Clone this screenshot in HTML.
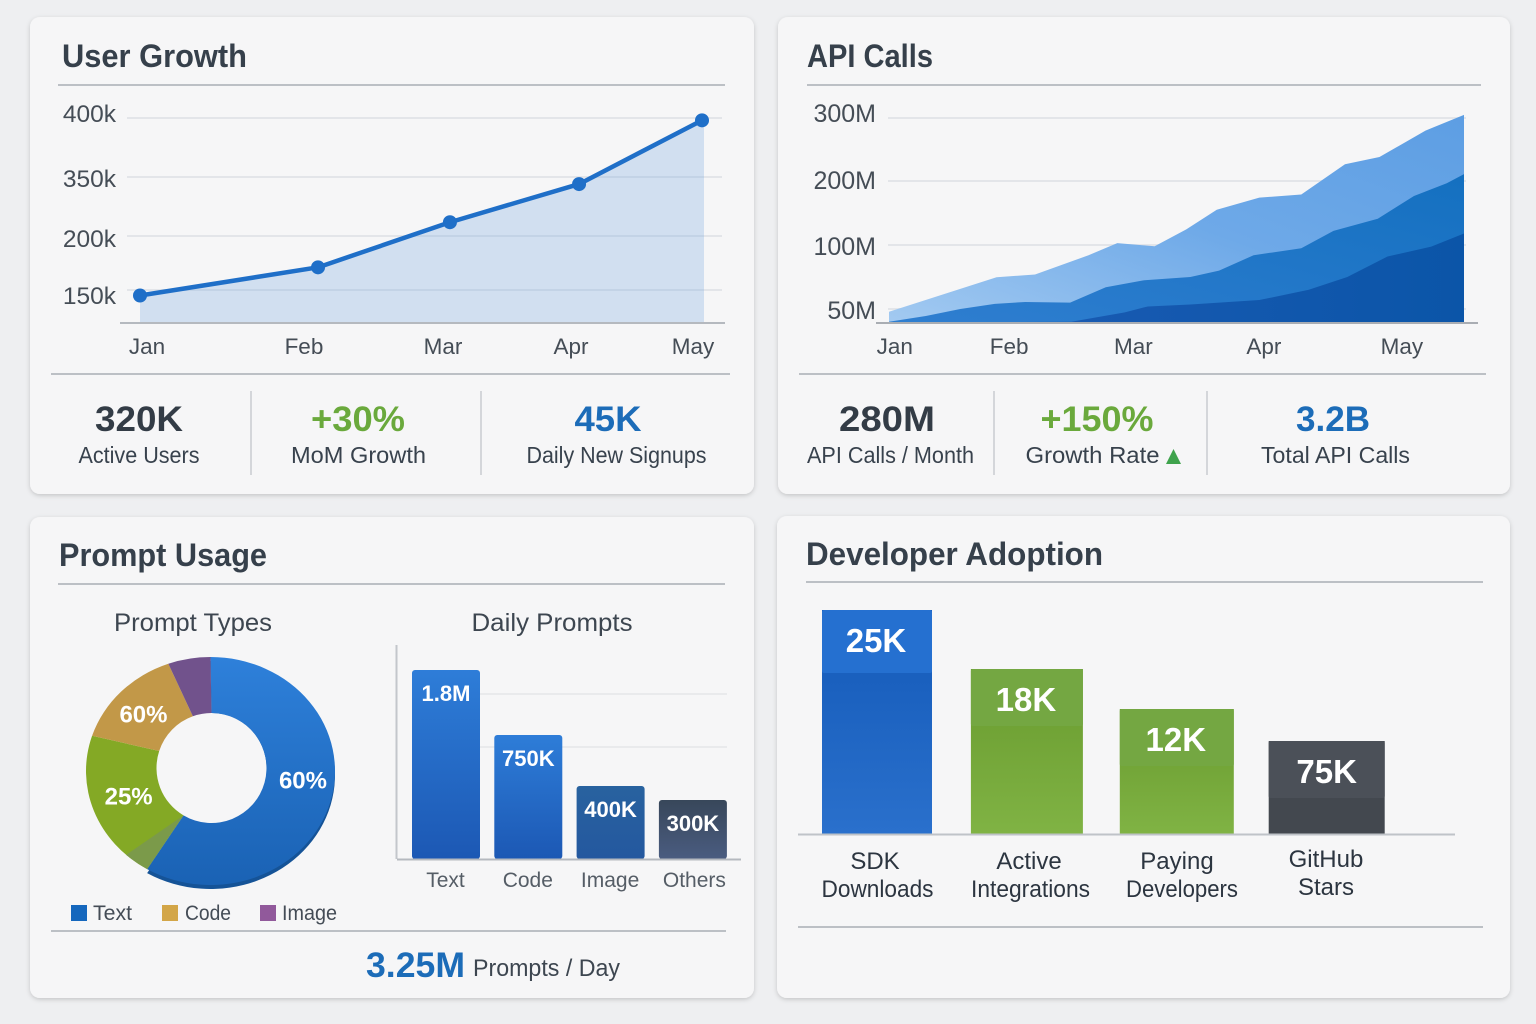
<!DOCTYPE html>
<html lang="en">
<head>
<meta charset="utf-8">
<title>Product Metrics Dashboard</title>
<style>
html,body{margin:0;padding:0;background:#eeeff1;width:1536px;height:1024px;overflow:hidden}
svg{display:block}
text{font-family:"Liberation Sans",sans-serif}
.title{font-size:32px;font-weight:700;fill:#36404b}
.kpi{font-size:35px;font-weight:700;text-anchor:middle}
.kpi-label{font-size:23px;fill:#38424d;text-anchor:middle}
.tick{font-size:24.5px;fill:#454d56}
.xtick{font-size:22.5px;fill:#454d56}
.sub{font-size:25px;fill:#3d4650;text-anchor:middle}
.legend{font-size:21px;fill:#444c56}
.dev{font-size:24px;fill:#2c3540;text-anchor:middle}
.divider{stroke:#bcc0c5;stroke-width:2}
.sep{stroke:#d4d6da;stroke-width:2}
</style>
</head>
<body>
<svg id="dash" xmlns="http://www.w3.org/2000/svg" width="1536" height="1024" viewBox="0 0 1536 1024">
<defs>
<filter id="cardShadow" x="-5%" y="-5%" width="110%" height="110%"><feDropShadow dx="0" dy="1.5" stdDeviation="2.5" flood-color="#000" flood-opacity="0.18"/></filter>
<linearGradient id="apiTop" x1="0" y1="1" x2="1" y2="0"><stop offset="0" stop-color="#a3caf1"/><stop offset="0.5" stop-color="#6ea9e8"/><stop offset="1" stop-color="#5d9ee3"/></linearGradient>
<linearGradient id="apiMid" x1="0" y1="1" x2="1" y2="0"><stop offset="0" stop-color="#2f7ed0"/><stop offset="1" stop-color="#1470c0"/></linearGradient>
<linearGradient id="apiLow" x1="0" y1="0" x2="1" y2="0"><stop offset="0" stop-color="#1e5cb6"/><stop offset="1" stop-color="#0b55a8"/></linearGradient>
<linearGradient id="barBlue" x1="0" y1="0" x2="0" y2="1"><stop offset="0" stop-color="#2e7dd8"/><stop offset="1" stop-color="#1c58b4"/></linearGradient>
<linearGradient id="barNavy" x1="0" y1="0" x2="0" y2="1"><stop offset="0" stop-color="#28629f"/><stop offset="1" stop-color="#24589f"/></linearGradient>
<linearGradient id="barSlate" x1="0" y1="0" x2="0" y2="1"><stop offset="0" stop-color="#38475a"/><stop offset="1" stop-color="#4a5c80"/></linearGradient>
<linearGradient id="devBlue" x1="0" y1="0" x2="0" y2="1"><stop offset="0" stop-color="#1359b8"/><stop offset="1" stop-color="#2a70cc"/></linearGradient>
<linearGradient id="devGreen" x1="0" y1="0" x2="0" y2="1"><stop offset="0" stop-color="#689a2e"/><stop offset="1" stop-color="#80b344"/></linearGradient>
<linearGradient id="donutBlue" x1="0" y1="0" x2="0" y2="1"><stop offset="0" stop-color="#2e80da"/><stop offset="1" stop-color="#1a62b4"/></linearGradient>
</defs>

<g>
<rect x="30" y="17" width="724" height="477" rx="10" fill="#f6f6f7" filter="url(#cardShadow)"/>
<text class="title" x="62" y="67" textLength="185">User Growth</text>
<line class="divider" x1="58" y1="85" x2="725" y2="85"/>
<g id="userChart"></g>
<line class="divider" x1="51" y1="374" x2="730" y2="374"/>
<line class="sep" x1="251" y1="391" x2="251" y2="475"/>
<line class="sep" x1="481" y1="391" x2="481" y2="475"/>
<text class="kpi" x="139" y="431" fill="#333c46" textLength="88">320K</text>
<text class="kpi-label" x="139" y="463" textLength="121">Active Users</text>
<text class="kpi" x="358" y="431" fill="#6aa93c" textLength="94">+30%</text>
<text class="kpi-label" x="358.5" y="463" textLength="135">MoM Growth</text>
<text class="kpi" x="608" y="431" fill="#1c6cb8" textLength="67">45K</text>
<text class="kpi-label" x="616.5" y="463" textLength="180">Daily New Signups</text>
</g>

<g>
<rect x="778" y="17" width="732" height="477" rx="10" fill="#f6f6f7" filter="url(#cardShadow)"/>
<text class="title" x="807" y="67" textLength="126">API Calls</text>
<line class="divider" x1="807" y1="85" x2="1481" y2="85"/>
<g id="apiChart"></g>
<line class="divider" x1="799" y1="374" x2="1486" y2="374"/>
<line class="sep" x1="994" y1="391" x2="994" y2="475"/>
<line class="sep" x1="1207" y1="391" x2="1207" y2="475"/>
<text class="kpi" x="887" y="431" fill="#333c46" textLength="96">280M</text>
<text class="kpi-label" x="890.5" y="463" textLength="167">API Calls / Month</text>
<text class="kpi" x="1097" y="431" fill="#6aa93c" textLength="113">+150%</text>
<text class="kpi-label" x="1092.5" y="463" textLength="134">Growth Rate</text>
<polygon points="1166,464 1181,464 1173.5,449" fill="#3fa34d"/>
<text class="kpi" x="1333" y="431" fill="#1c6cb8" textLength="74">3.2B</text>
<text class="kpi-label" x="1335.5" y="463" textLength="149">Total API Calls</text>
</g>

<g>
<rect x="30" y="517" width="724" height="481" rx="10" fill="#f6f6f7" filter="url(#cardShadow)"/>
<text class="title" x="59" y="566" textLength="208">Prompt Usage</text>
<line class="divider" x1="58" y1="584" x2="725" y2="584"/>
<text class="sub" x="193" y="631" textLength="158">Prompt Types</text>
<text class="sub" x="552" y="631" textLength="161">Daily Prompts</text>
<g id="donutChart"></g>
<g>
<rect x="71" y="905" width="16" height="16" fill="#1567bd"/>
<text class="legend" x="93" y="920" textLength="39">Text</text>
<rect x="162" y="905" width="16" height="16" fill="#d3a648"/>
<text class="legend" x="185" y="920" textLength="46">Code</text>
<rect x="260" y="905" width="16" height="16" fill="#91599b"/>
<text class="legend" x="282" y="920" textLength="55">Image</text>
</g>
<g id="promptBars"></g>
<line class="divider" x1="51" y1="931" x2="726" y2="931"/>
<text x="366" y="977" font-size="35" font-weight="700" fill="#1c6cb8" textLength="99">3.25M</text>
<text x="473" y="976" font-size="24" fill="#3d4650" textLength="147">Prompts / Day</text>
</g>

<g>
<rect x="777" y="516" width="733" height="482" rx="10" fill="#f6f6f7" filter="url(#cardShadow)"/>
<text class="title" x="806" y="565" textLength="297">Developer Adoption</text>
<line class="divider" x1="806" y1="582" x2="1483" y2="582"/>
<g id="devBars"></g>
<text class="dev" x="875" y="869">SDK</text>
<text class="dev" x="877.5" y="897" textLength="112">Downloads</text>
<text class="dev" x="1029" y="869">Active</text>
<text class="dev" x="1030.5" y="897" textLength="119">Integrations</text>
<text class="dev" x="1177" y="869">Paying</text>
<text class="dev" x="1182" y="897" textLength="112">Developers</text>
<text class="dev" x="1326" y="867">GitHub</text>
<text class="dev" x="1326" y="895">Stars</text>
<line class="divider" x1="798" y1="927" x2="1483" y2="927"/>
</g>
</svg>

<script>
// ---- User Growth data ----
const userMonths = ['Jan', 'Feb', 'Mar', 'Apr', 'May'];
const userMonthTime = [0, 1.267, 2.206, 3.125, 4];
const userValues = [145, 171, 235, 332, 398];
const userTickValues = [400, 350, 200, 150];
const userTickLabels = ['400k', '350k', '200k', '150k'];
const userMonthLabelTime = [0.05, 1.167, 2.157, 3.068, 3.936];

// ---- API Calls data (cumulative stack, millions) ----
const apiMonths = ['Jan', 'Feb', 'Mar', 'Apr', 'May'];
const apiMonthLabelTime = [1, 20.9, 42.5, 65.2, 89.2];
const apiTickValues = [300, 200, 100, 50];
const apiTickLabels = ['300M', '200M', '100M', '50M'];
const apiTopTime = [0, 18.7, 25.4, 34.7, 39.7, 46.2, 51.7, 57, 64.4, 71.7, 79.3, 85.3, 93.3, 100];
const apiTopValues = [40, 74.8, 77, 92, 103, 99, 124.5, 155, 174, 179, 226.5, 238, 280, 305];
const apiMidTime = [0, 6.4, 12.4, 18.4, 23.7, 31.5, 37.7, 44.4, 52.4, 57.4, 63.4, 71.7, 77.3, 85, 91.3, 97, 100];
const apiMidValues = [4.6, 25, 50, 54, 55.5, 55, 67, 72.5, 75, 80, 92, 97.5, 122, 141, 176.5, 196.5, 211];
const apiLowTime = [0, 31.7, 41, 45, 52.4, 64.4, 73, 79.7, 86.7, 94.3, 100];
const apiLowValues = [1, 4.6, 38, 52, 53.5, 57, 65, 75, 91, 98.7, 118];

// ---- Prompt Types data ----
const donutCategories = ['Text', 'Other', 'Code', 'Image'];
const donutShares = [58.5, 21.5, 14.5, 5.5];
const donutLabels = ['60%', '25%', '60%', ''];
const donutColors = ['url(#donutBlue)', '#84a925', '#c29848', '#71528c'];

// ---- Daily Prompts data ----
const promptCategories = ['Text', 'Code', 'Image', 'Others'];
const promptValues = [1800, 750, 400, 300];
const promptValueLabels = ['1.8M', '750K', '400K', '300K'];
const promptGridValues = [1412, 668];

// ---- Developer Adoption data ----
const devValues = [25, 18, 12, 7.5];
const devValueLabels = ['25K', '18K', '12K', '75K'];

const SVGNS = 'http://www.w3.org/2000/svg';
function make(parent, tag, attrs, content) {
  const el = document.createElementNS(SVGNS, tag);
  for (const k in attrs) el.setAttribute(k, attrs[k]);
  if (content !== undefined) el.textContent = content;
  parent.appendChild(el);
  return el;
}
function piecewise(domain, range) {
  return function (v) {
    let i = 0;
    while (i < domain.length - 2 && v > domain[i + 1]) i++;
    return range[i] + (v - domain[i]) * (range[i + 1] - range[i]) / (domain[i + 1] - domain[i]);
  };
}
document.querySelectorAll('text[textLength]').forEach(function (t) {
  t.setAttribute('lengthAdjust', 'spacingAndGlyphs');
});

// ==== User Growth ====
(function () {
  const g = document.getElementById('userChart');
  const x = t => 140 + t * 140.5;
  const y = piecewise([120, 150, 200, 350, 400], [323, 290, 236, 177, 118]);
  const labelY = piecewise([118, 177, 236, 290], [122, 187, 247, 304]);
  userTickValues.forEach((v, i) => {
    const line = make(g, 'line', { x1: 127, x2: 722, y1: y(v), y2: y(v), stroke: '#e3e5e9', 'stroke-width': 2 });
    
    
    const label = make(g, 'text', { class: 'tick', x: 116, y: labelY(y(v)), 'text-anchor': 'end' }, userTickLabels[i]);
    
    
  });
  const pts = userValues.map((v, i) => x(userMonthTime[i]) + ',' + y(v));
  const lastX = x(userMonthTime[userMonthTime.length - 1]);
  const area = make(g, 'polygon', { points: x(userMonthTime[0]) + ',323 ' + pts.join(' ') + ' ' + (lastX + 2) + ',' + y(userValues[userValues.length - 1]) + ' ' + (lastX + 2) + ',323', fill: '#6ea3dc', 'fill-opacity': 0.27 });
  
  
  const baseline = make(g, 'line', { x1: 120, x2: 725, y1: 323, y2: 323, stroke: '#b5b9bf', 'stroke-width': 2 });
  
  
  const line = make(g, 'polyline', { points: pts.join(' '), fill: 'none', stroke: '#1f6fc8', 'stroke-width': 4.5, 'stroke-linejoin': 'round' });
  
  
  userValues.forEach((v, i) => {
    const dot = make(g, 'circle', { cx: x(userMonthTime[i]), cy: y(v), r: 7, fill: '#1f6fc8' });
    
    
  });
  userMonths.forEach((m, i) => {
    const label = make(g, 'text', { class: 'xtick', x: x(userMonthLabelTime[i]), y: 354, 'text-anchor': 'middle' }, m);
    
    
  });
})();

// ==== API Calls ====
(function () {
  const g = document.getElementById('apiChart');
  const x = t => 889 + t * 5.75;
  const y = piecewise([0, 50, 100, 200, 300], [323, 309, 245, 181, 118]);
  const labelY = piecewise([118, 181, 245, 309], [122, 189, 255, 319]);
  apiTickValues.forEach((v, i) => {
    const line = make(g, 'line', { x1: 888, x2: 1466, y1: y(v), y2: y(v), stroke: '#e3e5e9', 'stroke-width': 2 });
    
    
    const label = make(g, 'text', { class: 'tick', 'font-size': 25, x: 876, y: labelY(y(v)), 'text-anchor': 'end', style: 'font-size:25px' }, apiTickLabels[i]);
    
    
  });
  function band(times, values, fill) {
    const pts = values.map((v, i) => x(times[i]) + ',' + y(v)).join(' ');
    return make(g, 'polygon', { points: x(times[0]) + ',323 ' + pts + ' ' + x(times[times.length - 1]) + ',323', fill: fill });
  }
  const top = band(apiTopTime, apiTopValues, 'url(#apiTop)');
  
  
  const mid = band(apiMidTime, apiMidValues, 'url(#apiMid)');
  
  
  const low = band(apiLowTime, apiLowValues, 'url(#apiLow)');
  
  
  const baseline = make(g, 'line', { x1: 876, x2: 1478, y1: 323, y2: 323, stroke: '#a9adb3', 'stroke-width': 2 });
  
  
  apiMonths.forEach((m, i) => {
    const label = make(g, 'text', { class: 'xtick', x: x(apiMonthLabelTime[i]), y: 354, 'text-anchor': 'middle' }, m);
    
    
  });
})();

// ==== Donut ====
(function () {
  const g = document.getElementById('donutChart');
  const cx = 210.5, cy = 771, rx = 124.5, ry = 114, hcx = 211.5, hcy = 768, hr = 55;
  const total = donutShares.reduce((a, b) => a + b, 0);
  const outer = a => [cx + rx * Math.sin(a), cy - ry * Math.cos(a)];
  const inner = a => [hcx + hr * Math.sin(a), hcy - hr * Math.cos(a)];
  function slicePath(a0, a1, dy) {
    const large = a1 - a0 > Math.PI ? 1 : 0;
    const p0 = outer(a0), p1 = outer(a1), q1 = inner(a1), q0 = inner(a0);
    return 'M' + p0[0] + ' ' + (p0[1] + dy) + ' A' + rx + ' ' + ry + ' 0 ' + large + ' 1 ' + p1[0] + ' ' + (p1[1] + dy) +
      ' L' + q1[0] + ' ' + (q1[1] + dy) + ' A' + hr + ' ' + hr + ' 0 ' + large + ' 0 ' + q0[0] + ' ' + (q0[1] + dy) + ' Z';
  }
  const firstEnd = donutShares[0] / total * 2 * Math.PI;
  const depth = make(g, 'path', { d: slicePath(0, firstEnd, 4), fill: '#155397' });
  
  
  const hole = make(g, 'circle', { cx: hcx, cy: hcy, r: hr, fill: '#f6f6f7' });
  
  
  let acc = 0;
  donutShares.forEach((s, i) => {
    const a0 = acc / total * 2 * Math.PI;
    acc += s;
    const a1 = acc / total * 2 * Math.PI;
    const p = make(g, 'path', { d: slicePath(a0, a1, 0), fill: donutColors[i] });
    
    
  });
  // muted overlap wedge at the blue / green boundary
  const w0 = firstEnd, w1 = firstEnd + 0.21;
  const a = outer(w0), b = outer(w1), c = inner(w0);
  const wedge = make(g, 'path', { d: 'M' + a[0] + ' ' + a[1] + ' A' + rx + ' ' + ry + ' 0 0 1 ' + b[0] + ' ' + b[1] + ' L' + c[0] + ' ' + c[1] + ' Z', fill: '#7b9a4a' });
  
  
  const nudgeX = [6, -5, -8, 0];
  const nudgeY = [-13, -1, -4, 0];
  acc = 0;
  donutShares.forEach((s, i) => {
    const mid = (acc + s / 2) / total * 2 * Math.PI;
    acc += s;
    if (!donutLabels[i]) return;
    const rr = i === 0 ? 0.745 : 0.66;
    const tx = cx + rx * rr * Math.sin(mid) + (i === 0 ? -3 : 0) + nudgeX[i];
    const ty = cy - ry * rr * Math.cos(mid) + 8 + nudgeY[i];
    const t = make(g, 'text', { x: tx, y: ty, 'text-anchor': 'middle', 'font-size': 24, 'font-weight': 700, fill: '#fff' }, donutLabels[i]);
    
    
  });
})();

// ==== Daily Prompts ====
(function () {
  const g = document.getElementById('promptBars');
  const y = piecewise([0, 300, 400, 750, 1800], [859, 800, 786, 735, 670]);
  const band = i => 412 + i * 82.3;
  const fills = ['url(#barBlue)', 'url(#barBlue)', 'url(#barNavy)', 'url(#barSlate)'];
  promptGridValues.forEach(v => {
    const line = make(g, 'line', { x1: 479, x2: 727, y1: y(v), y2: y(v), stroke: '#e9eaec', 'stroke-width': 2 });
    
    
  });
  const yAxis = make(g, 'line', { x1: 396.5, x2: 396.5, y1: 645, y2: 859, stroke: '#c3c6cb', 'stroke-width': 2 });
  
  
  promptValues.forEach((v, i) => {
    const bx = band(i), top = y(v);
    const r = make(g, 'rect', { x: bx, y: top, width: 68, height: 859 - top, rx: 3, fill: fills[i] });
    
    
    const val = make(g, 'text', { x: bx + 34, y: top + 31, 'text-anchor': 'middle', 'font-size': 22, 'font-weight': 700, fill: '#fff' }, promptValueLabels[i]);
    
    
    const cat = make(g, 'text', { x: bx + 33.5 + (i === 3 ? 2 : 0), y: 887, 'text-anchor': 'middle', 'font-size': 21, fill: '#555d66' }, promptCategories[i]);
    
    
  });
  const base = make(g, 'line', { x1: 397, x2: 741, y1: 859.5, y2: 859.5, stroke: '#b5b9bf', 'stroke-width': 2 });
  
  
})();

// ==== Developer Adoption ====
(function () {
  const g = document.getElementById('devBars');
  const y = piecewise([0, 7.5, 12, 18, 25], [834, 741, 709, 669, 610]);
  const band = i => 822 + i * 148.9;
  const barWidth = i => 110 + i * 2;
  const bodies = ['url(#devBlue)', 'url(#devGreen)', 'url(#devGreen)', '#43484f'];
  const heads = ['#2570d0', '#74a742', '#74a742', '#4b5058'];
  devValues.forEach((v, i) => {
    const bx = band(i), top = y(v), w = barWidth(i);
    const body = make(g, 'rect', { x: bx, y: top, width: w, height: 834 - top, fill: bodies[i] });
    
    
    const head = make(g, 'rect', { x: bx, y: top, width: w, height: i ? 57 : 63, rx: 2, fill: heads[i] });
    
    
    const t = make(g, 'text', { x: bx + w / 2 - 1 + (i === 3 ? 1 : 0), y: top + 42, 'text-anchor': 'middle', 'font-size': 33, 'font-weight': 700, fill: '#fff' }, devValueLabels[i]);
    
    
  });
  const base = make(g, 'line', { x1: 798, x2: 1455, y1: 834.5, y2: 834.5, stroke: '#bfc3c8', 'stroke-width': 2 });
  
  
})();
</script>
</body>
</html>
